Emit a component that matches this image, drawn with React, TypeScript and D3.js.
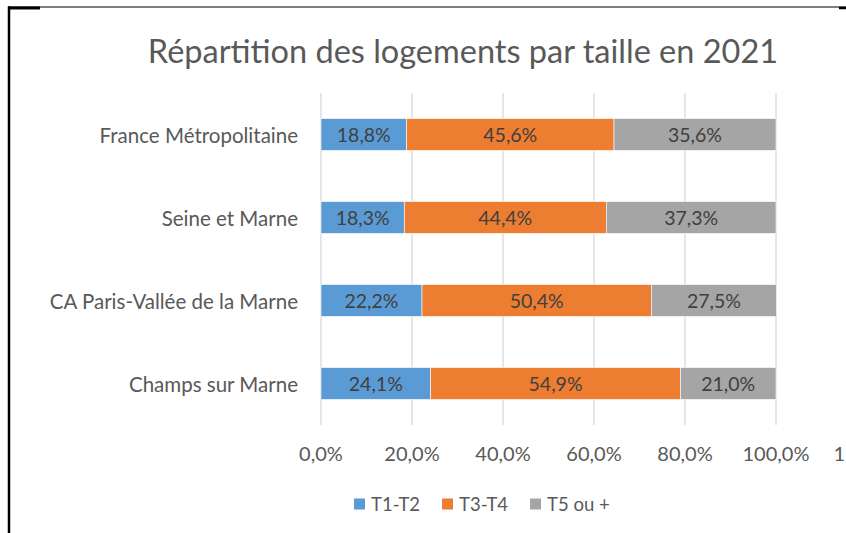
import React from 'react';
import * as d3 from 'd3';

// --- data ---
const categories = ['France Métropolitaine', 'Seine et Marne', 'CA Paris-Vallée de la Marne', 'Champs sur Marne'];
const seriesNames = ['T1-T2', 'T3-T4', 'T5 ou +'];
const t1t2 = [18.8, 18.3, 22.2, 24.1];
const t3t4 = [45.6, 44.4, 50.4, 54.9];
const t5plus = [35.6, 37.3, 27.5, 21.0];
const xTicks = [0, 20, 40, 60, 80, 100, 120];

const colors = ['#5B9BD5', '#ED7D31', '#A5A5A5'];
const FONT = 'Lato, "Open Sans", sans-serif';

const W = 846;
const H = 533;

export default function App() {
    const rows = categories.map((c, i) => ({ cat: c, s0: t1t2[i], s1: t3t4[i], s2: t5plus[i] }));
    const stack = d3.stack<any>().keys(['s0', 's1', 's2'])(rows);

    const x = d3.scaleLinear().domain([0, 100]).range([321, 776]);
    const y = d3.scaleBand<string>().domain(categories).range([93, 425]).paddingInner(0.615).paddingOuter(0.3075);

    const fmt = (v: number) => v.toFixed(1).replace('.', ',') + '%';

    return (
        <svg width={W} height={H} style={{ position: 'absolute', left: 0, top: 0, background: '#fff' }} fontFamily={FONT}>
            {/* frame remnants */}
            <line x1={8} x2={W} y1={7} y2={7} stroke="#000" strokeWidth={1.2} />
            <line x1={8} x2={40} y1={8} y2={8} stroke="#000" strokeWidth={3} />
            <line x1={839} x2={W} y1={8} y2={8} stroke="#000" strokeWidth={2.5} />
            <line x1={9} x2={9} y1={6.5} y2={H} stroke="#000" strokeWidth={2.5} />

            <text x={463} y={50} textAnchor="middle" dominantBaseline="central" fontSize={32.5} fill="#595959">
                Répartition des logements par taille en 2021
            </text>

            {/* gridlines */}
            {xTicks.filter(t => t <= 100).map(t => (
                <line key={t} x1={x(t)} x2={x(t)} y1={93} y2={425} stroke="#D9D9D9" strokeWidth={1.3} />
            ))}

            {/* bars */}
            {stack.map((layer, si) => (
                <g key={si}>
                    {layer.map((d, i) => (
                        <g key={i}>
                            <rect x={x(d[0])} y={y(categories[i])} width={x(d[1]) - x(d[0])} height={y.bandwidth()}
                                fill={colors[si]} stroke="#fff" strokeWidth={0.6} />
                            <text x={(x(d[0]) + x(d[1])) / 2} y={(y(categories[i]) as number) + y.bandwidth() / 2}
                                textAnchor="middle" dominantBaseline="central" fontSize={19.5} fill="#404040">
                                {fmt(d[1] - d[0])}
                            </text>
                        </g>
                    ))}
                </g>
            ))}

            {/* category labels */}
            {categories.map(c => (
                <text key={c} x={298} y={(y(c) as number) + y.bandwidth() / 2} textAnchor="end" dominantBaseline="central"
                    fontSize={20.5} fill="#595959">{c}</text>
            ))}

            {/* x tick labels */}
            {xTicks.map(t => (
                <text key={t} x={x(t)} y={453} textAnchor="middle" dominantBaseline="central" fontSize={20} fill="#595959">
                    {fmt(t)}
                </text>
            ))}

            {/* legend */}
            {seriesNames.map((s, i) => (
                <g key={s} transform={`translate(${354 + i * 88},504)`}>
                    <rect x={0} y={-5.5} width={11} height={11} fill={colors[i]} />
                    <text x={17} y={0} dominantBaseline="central" fontSize={18.5} fill="#595959">{s}</text>
                </g>
            ))}
        </svg>
    );
}
